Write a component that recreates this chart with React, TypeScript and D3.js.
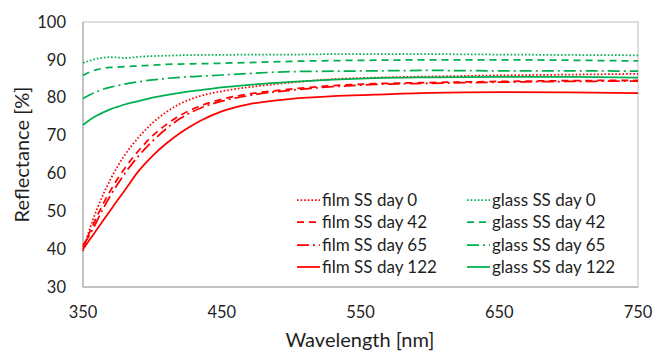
import React from 'react';
import * as d3 from 'd3';

// wavelength grid [nm] shared by all series
const wavelengths = [350, 355, 360, 365, 370, 375, 380, 390, 400, 410, 420, 435, 450, 470, 500, 530, 560, 600, 650, 700, 750];

// reflectance [%]
const filmDay0 = [39.5, 45.5, 50.5, 54.8, 58.6, 61.9, 64.8, 69.5, 73.3, 76.2, 78.4, 80.5, 81.7, 82.8, 84, 84.9, 85.3, 85.6, 85.9, 86.1, 86.3];
const filmDay42 = [40.5, 44.6, 48.6, 52.3, 55.6, 58.6, 61.3, 66, 69.9, 72.9, 75.3, 77.9, 79.6, 81, 82.3, 83.2, 83.7, 84, 84.3, 84.5, 84.6];
const filmDay65 = [41, 43.9, 47.4, 51, 54.3, 57.2, 59.9, 64.6, 68.5, 71.8, 74.5, 77.3, 79.1, 80.6, 82, 82.9, 83.5, 83.8, 84.1, 84.3, 84.4];
const filmDay122 = [40, 42.6, 45.2, 47.8, 50.4, 53, 55.5, 60.6, 64.6, 67.9, 70.7, 74, 76.4, 78.3, 79.7, 80.4, 80.8, 81.3, 81.5, 81.4, 81.2];
const glassDay0 = [89.2, 89.8, 90.3, 90.6, 90.7, 90.6, 90.5, 90.8, 91, 91.1, 91.2, 91.3, 91.3, 91.4, 91.4, 91.5, 91.5, 91.5, 91.4, 91.3, 91.2];
const glassDay42 = [85.9, 86.8, 87.4, 87.8, 88, 88.1, 88.2, 88.4, 88.6, 88.8, 88.9, 89, 89.1, 89.3, 89.6, 89.8, 89.9, 90, 90, 89.9, 89.7];
const glassDay65 = [79.8, 80.8, 81.6, 82.3, 82.8, 83.2, 83.6, 84.2, 84.7, 85.1, 85.4, 85.7, 86, 86.4, 86.9, 87, 87.1, 87.2, 87.1, 87.1, 87];
const glassDay122 = [72.8, 74.2, 75.3, 76.2, 77, 77.6, 78.2, 79.1, 80, 80.7, 81.3, 82, 82.7, 83.4, 84.2, 84.8, 85.2, 85.4, 85.5, 85.5, 85.3];

const xTicks = [350, 450, 550, 650, 750];
const yTicks = [30, 40, 50, 60, 70, 80, 90, 100];

const RED = '#ff0000';
const GREEN = '#00b050';
const DOT = '1.6 2';
const DASH = '7 5';
const LONGDASHDOT = '12 4 2 4';

const series = [
  { name: 'film SS day 0', values: filmDay0, color: RED, dash: DOT },
  { name: 'film SS day 42', values: filmDay42, color: RED, dash: DASH },
  { name: 'film SS day 65', values: filmDay65, color: RED, dash: LONGDASHDOT },
  { name: 'film SS day 122', values: filmDay122, color: RED, dash: null },
  { name: 'glass SS day 0', values: glassDay0, color: GREEN, dash: DOT },
  { name: 'glass SS day 42', values: glassDay42, color: GREEN, dash: DASH },
  { name: 'glass SS day 65', values: glassDay65, color: GREEN, dash: LONGDASHDOT },
  { name: 'glass SS day 122', values: glassDay122, color: GREEN, dash: null },
];

const width = 655;
const height = 351;
const margin = { top: 22, right: 17, bottom: 64, left: 83 };
const font = 'Lato, "Open Sans", sans-serif';
const textColor = '#1f1f1f';

export default function App() {
  const x = d3.scaleLinear().domain([350, 750]).range([margin.left, width - margin.right]);
  const y = d3.scaleLinear().domain([30, 100]).range([height - margin.bottom, margin.top]);

  const line = d3.line<number>()
    .x((_, i) => x(wavelengths[i]))
    .y(d => y(d))
    .curve(d3.curveMonotoneX);

  const plotW = x(750) - x(350);
  const plotH = y(30) - y(100);

  // legend placed in lower right of the plot, two columns
  const legendRows = [200, 222, 245, 267];
  const legendCols = [297, 467];

  return (
    <svg width={width} height={height} style={{ position: 'absolute', left: 0, top: 0, background: '#fff' }}
      fontFamily={font}>
      <rect x={0} y={0} width={width} height={height} fill="#fff" />
      <rect x={x(350)} y={y(100)} width={plotW} height={plotH} fill="none" stroke="#bfbfbf" strokeWidth={1} />
      <line x1={x(350)} x2={x(350)} y1={y(100)} y2={y(30)} stroke="#a6a6a6" />
      <line x1={x(350)} x2={x(750)} y1={y(30)} y2={y(30)} stroke="#a6a6a6" />

      {yTicks.map(t => (
        <text key={t} x={margin.left - 17} y={y(t)} dy="0.35em" textAnchor="end" fontSize={16.5} fill={textColor}>{t}</text>
      ))}
      {xTicks.map(t => (
        <text key={t} x={x(t)} y={318} textAnchor="middle" fontSize={16.5} fill={textColor}>{t}</text>
      ))}

      <text x={360} y={347} textAnchor="middle" fontSize={20} fill={textColor}>Wavelength [nm]</text>
      <text transform={`translate(29,${(y(30) + y(100)) / 2}) rotate(-90)`} textAnchor="middle" fontSize={20} fill={textColor}>Reflectance [%]</text>

      <g fill="none" strokeWidth={1.75}>
        {series.map(s => (
          <path key={s.name} d={line(s.values) || ''} stroke={s.color}
            strokeDasharray={s.dash || undefined} />
        ))}
      </g>

      <g>
        {series.map((s, i) => {
          const col = Math.floor(i / 4);
          const row = i % 4;
          const lx = legendCols[col];
          const ly = legendRows[row];
          return (
            <g key={s.name}>
              <line x1={lx} x2={lx + 23} y1={ly} y2={ly} stroke={s.color} strokeWidth={1.75}
                strokeDasharray={s.dash || undefined} />
              <text x={lx + 25} y={ly} dy="0.35em" fontSize={17} fill={textColor}>{s.name}</text>
            </g>
          );
        })}
      </g>
    </svg>
  );
}
